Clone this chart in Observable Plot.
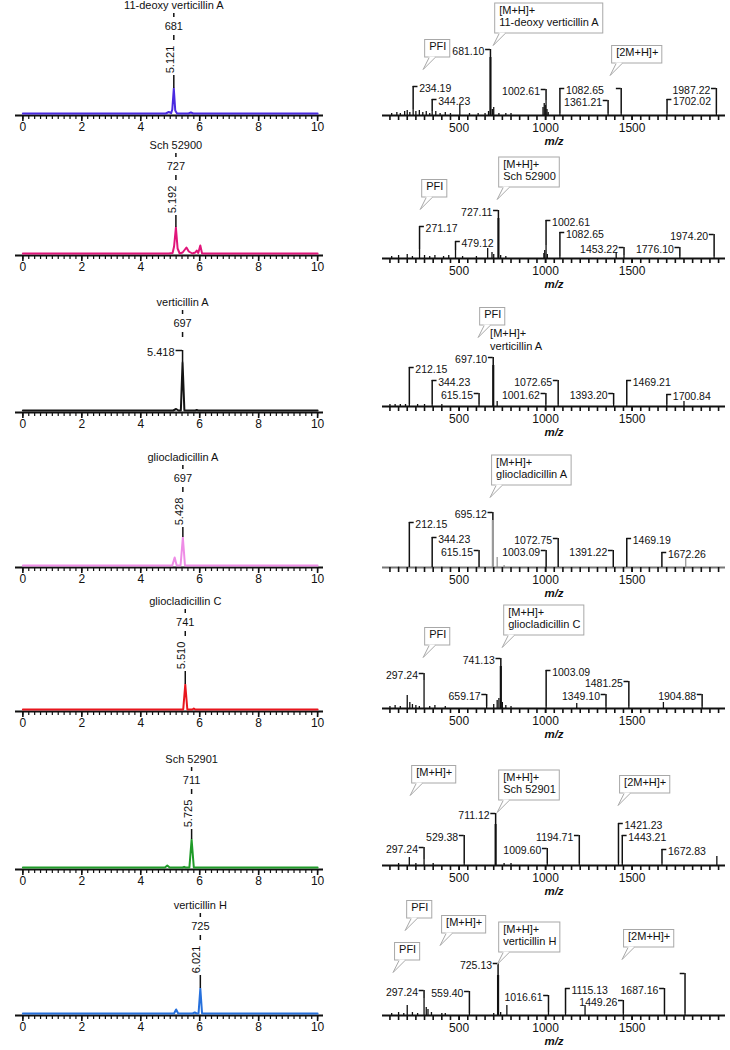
<!DOCTYPE html>
<html><head><meta charset="utf-8">
<script src="https://cdn.jsdelivr.net/npm/d3@7"></script>
<script src="https://cdn.jsdelivr.net/npm/@observablehq/plot@0.6"></script>
<style>
body{margin:0;background:#fff;}
#fig{position:relative;width:730px;height:1050px;overflow:hidden;font-family:"Liberation Sans",Arial,sans-serif;}
#fig svg{position:absolute;}
</style></head><body><div id="fig"></div>
<script>
// ---------------- DATA ----------------
const compounds = ["11-deoxy verticillin A", "Sch 52900", "verticillin A", "gliocladicillin A", "gliocladicillin C", "Sch 52901", "verticillin H"];
const monitoredIons = [681, 727, 697, 697, 741, 711, 725];
const retentionTimes = [5.121, 5.192, 5.418, 5.428, 5.510, 5.725, 6.021];
const peakHeights = [25, 26, 48, 28, 25, 28, 25];

// extracted ion chromatograms: [time (min), intensity]
const eicDeoxyVA = [[0,0],[4.85,0],[4.95,1.5],[5.03,0.3],[5.07,4],[5.121,25],[5.17,3],[5.23,0],[5.62,0],[5.7,1],[5.78,0],[10,0]];
const eicSch52900 = [[0,0],[4.95,0],[5.08,0.5],[5.13,7],[5.192,26],[5.25,5],[5.32,0],[5.42,1],[5.55,6],[5.63,2],[5.75,0],[5.85,1],[5.9,3],[5.95,0.5],[6.02,8],[6.08,0],[10,0]];
const eicVertA = [[0,0],[5.1,0],[5.2,1.5],[5.28,0],[5.36,0],[5.418,48],[5.48,0],[5.85,0],[5.9,0.5],[5.95,0],[10,0]];
const eicGlioA = [[0,0],[5.07,0],[5.15,8],[5.22,0],[5.35,0],[5.428,28],[5.5,0],[10,0]];
const eicGlioC = [[0,0],[5.44,0],[5.51,25],[5.58,0],[5.75,0],[5.8,1],[5.85,0],[10,0]];
const eicSch52901 = [[0,0],[4.82,0],[4.9,2],[4.98,0],[5.42,0],[5.47,0.7],[5.52,0],[5.65,0],[5.725,28],[5.8,0],[10,0]];
const eicVertH = [[0,0],[5.13,0],[5.2,4],[5.27,0],[5.76,0],[5.83,1],[5.9,0],[5.96,0],[6.021,25],[6.08,0],[10,0]];
const timeTickLabels = [0, 2, 4, 6, 8, 10];

// mass spectra: peaks [m/z, intensity]; labels [m/z, text, label level, side]; callouts [m/z, level, text]
const msDeoxyVA_peaks = [[681.10,58],[234.19,6],[344.23,4],[504,10],[1002.61,15],[1082.65,2],[1361.21,2],[1437,2],[1702.02,2],[1987.22,2],
  [110,2],[140,3],[160,2],[185,4],[200,5],[215,3],[250,4],[270,5],[290,3],[310,4],[330,2],[365,4],[390,2],[420,3],[450,2],[560,2],[610,2],[650,2],[670,4],[692,6],[700,8],[730,2],[770,2],[800,2],[985,8],[992,12],[998,10],[1008,6],[1015,3]];
const msDeoxyVA_labels = [[681.10,"681.10",66,"L"],[234.19,"234.19",29,"R"],[344.23,"344.23",16,"R"],[1002.61,"1002.61",26,"L"],[1082.65,"1082.65",27,"R"],[1437,"",27,"L"],[1361.21,"1361.21",15,"L"],[1987.22,"1987.22",27,"L"],[1702.02,"1702.02",16,"R"]];
const msDeoxyVA_callouts = [[697,70,"[M+H]+\n11-deoxy verticillin A"],[292,46,"PFI"],[1373,40,"[2M+H]+"]];

const msSch52900_peaks = [[727.11,40],[271.17,9],[479.12,8],[665,10],[1002.61,13],[1082.65,2],[1408,6],[1453.22,3],[1776.10,2],[1974.20,2],
  [110,2],[150,3],[200,4],[230,2],[300,3],[330,2],[360,3],[410,2],[440,3],[520,2],[600,2],[690,6],[700,4],[740,3],[770,2],[990,5],[995,8],[1010,4]];
const msSch52900_labels = [[727.11,"727.11",48,"L"],[271.17,"271.17",32,"R"],[479.12,"479.12",17,"R"],[1002.61,"1002.61",38,"R"],[1082.65,"1082.65",26,"R"],[1453.22,"1453.22",11,"L"],[1776.10,"1776.10",11,"L"],[1974.20,"1974.20",24,"L"]];
const msSch52900_callouts = [[275,49,"PFI"],[720,59,"[M+H]+\nSch 52900"]];

const msVertA_peaks = [[697.10,41],[212.15,2],[344.23,2],[615.15,2],[720,5],[1001.62,2],[1072.65,2],[1393.20,2],[1469.21,2],[1700.84,2],[1800,5],
  [100,2],[130,2],[160,2],[190,2],[260,2],[300,2],[400,2]];
const msVertA_labels = [[697.10,"697.10",49,"L"],[212.15,"212.15",39,"R"],[344.23,"344.23",26,"R"],[615.15,"615.15",13,"L"],[1001.62,"1001.62",13,"L"],[1072.65,"1072.65",26,"L"],[1393.20,"1393.20",13,"L"],[1469.21,"1469.21",26,"R"],[1700.84,"1700.84",12,"R"]];
const msVertA_callouts = [[610,69,"PFI"]];
const msVertA_notes = [[679,77,"[M+H]+\nverticillin A"]];

const msGlioA_peaks = [[695.12,47],[720,10],[1810,10],[150,1],[250,1],[400,1],[760,2]];
const msGlioA_labels = [[695.12,"695.12",55,"L"],[212.15,"212.15",45,"R"],[344.23,"344.23",30,"R"],[615.15,"615.15",17,"L"],[1003.09,"1003.09",17,"L"],[1072.75,"1072.75",29,"L"],[1391.22,"1391.22",17,"L"],[1469.19,"1469.19",29,"R"],[1672.26,"1672.26",15,"R"]];
const msGlioA_callouts = [[679,70,"[M+H]+\ngliocladicillin A"]];

const msGlioC_peaks = [[741.13,42],[297.24,28],[200,13],[659.17,2],[1003.09,2],[1180,5],[1349.10,2],[1481.25,2],[1681,6],[1904.88,2],
  [100,2],[130,3],[160,2],[215,6],[230,4],[250,3],[270,2],[330,2],[360,3],[420,2],[700,4],[720,8],[730,10],[750,6],[770,3],[800,2]];
const msGlioC_labels = [[741.13,"741.13",50,"L"],[297.24,"297.24",35,"L"],[659.17,"659.17",14,"L"],[1003.09,"1003.09",38,"R"],[1481.25,"1481.25",27,"L"],[1349.10,"1349.10",14,"L"],[1904.88,"1904.88",14,"L"]];
const msGlioC_callouts = [[292,51,"PFI"],[749,61,"[M+H]+\ngliocladicillin C"]];

const msSch52901_peaks = [[711.12,41],[297.24,6],[212,8],[529.38,2],[1009.60,2],[1194.71,2],[1421.23,2],[1443.21,2],[1672.83,2],[1990,9],
  [150,2],[250,2],[350,2],[760,2],[800,2]];
const msSch52901_labels = [[711.12,"711.12",52,"L"],[297.24,"297.24",18,"L"],[529.38,"529.38",30,"L"],[1009.60,"1009.60",17,"L"],[1194.71,"1194.71",30,"L"],[1421.23,"1421.23",42,"R"],[1443.21,"1443.21",30,"R"],[1672.83,"1672.83",16,"R"]];
const msSch52901_callouts = [[217,70,"[M+H]+"],[720,53,"[M+H]+\nSch 52901"],[1419,60,"[2M+H]+"]];

const msVertH_peaks = [[725.13,40],[297.24,17],[200,10],[559.40,2],[776,10],[1016.61,3],[1115.13,2],[1228,10],[1449.26,2],[1687.16,2],[1806,2],
  [110,2],[150,3],[180,2],[230,3],[260,2],[310,8],[320,6],[340,3],[400,2],[420,2],[700,2],[740,3]];
const msVertH_labels = [[725.13,"725.13",52,"L"],[297.24,"297.24",25,"L"],[559.40,"559.40",24,"L"],[1016.61,"1016.61",20,"L"],[1115.13,"1115.13",27,"R"],[1449.26,"1449.26",15,"L"],[1687.16,"1687.16",27,"L"],[1806,"",42,"L"]];
const msVertH_callouts = [[188,85,"PFI"],[390,70,"[M+H]+"],[118,43,"PFI"],[720,51,"[M+H]+\nverticillin H"],[1442,56,"[2M+H]+"]];
const mzTickLabels = [500, 1000, 1500];

// ---------------- STYLE / LAYOUT ----------------
const traceColors = ["#4a2ae0", "#e0157a", "#141414", "#ee8ce6", "#e8161e", "#1f9b28", "#2670dc"];
const spectrumColors = ["#111", "#111", "#111", "#9a9a9a", "#111", "#111", "#111"];
const spectrumAxisColors = ["#111", "#111", "#111", "#777", "#111", "#111", "#111"];
const rotatedRT = [true, true, false, true, true, true, true];
const leftTops = [0, 140, 297, 452, 596, 754, 900];
const rightTops = [0, 143, 291, 452, 593, 750, 900];
const eics = [eicDeoxyVA, eicSch52900, eicVertA, eicGlioA, eicGlioC, eicSch52901, eicVertH];
const spectra = [
  {peaks: msDeoxyVA_peaks, labels: msDeoxyVA_labels, callouts: msDeoxyVA_callouts, notes: []},
  {peaks: msSch52900_peaks, labels: msSch52900_labels, callouts: msSch52900_callouts, notes: []},
  {peaks: msVertA_peaks, labels: msVertA_labels, callouts: msVertA_callouts, notes: msVertA_notes},
  {peaks: msGlioA_peaks, labels: msGlioA_labels, callouts: msGlioA_callouts, notes: []},
  {peaks: msGlioC_peaks, labels: msGlioC_labels, callouts: msGlioC_callouts, notes: []},
  {peaks: msSch52901_peaks, labels: msSch52901_labels, callouts: msSch52901_callouts, notes: []},
  {peaks: msVertH_peaks, labels: msVertH_labels, callouts: msVertH_callouts, notes: []}
];
const timeMinorTicks = d3.range(0, 51).map(k => k / 5);
const mzMinorTicks = d3.range(2, 41).map(k => k * 50);
const FONT = '"Liberation Sans", Arial, sans-serif';
const fig = document.getElementById("fig");

// right-panel scale geometry (used to size callout boxes around measured text)
const MZ_DOMAIN = [57, 2040], R_W = 370, R_ML = 22, R_MR = 5;
const MZ_PER_PX = (MZ_DOMAIN[1] - MZ_DOMAIN[0]) / (R_W - R_ML - R_MR);
const measureCtx = document.createElement("canvas").getContext("2d");
measureCtx.font = `11px ${FONT}`;
const LINE_H = 12.5, PAD_X = 4, PAD_Y = 2.5, TAIL_UP = 12;

function boxFor(c) {
  const lines = c.text.split("\n");
  const w = Math.max(...lines.map(l => measureCtx.measureText(l).width)) + 2 * PAD_X;
  const h = lines.length * LINE_H + 2 * PAD_Y;
  const x1 = c.mz + 2 * MZ_PER_PX, x2 = x1 + w * MZ_PER_PX;
  const y1 = c.y + TAIL_UP, y2 = y1 + h;
  return {...c, lines, x1, x2, y1, y2};
}

function chromPlot(i) {
  const trace = eics[i].map(([t, v]) => ({t, v}));
  const peak = [{rt: retentionTimes[i], h: peakHeights[i], ion: monitoredIons[i], name: compounds[i]}];
  const marks = [
    Plot.ruleY([0], {stroke: "#111", strokeWidth: 2}),
    Plot.axisX({ticks: timeMinorTicks, tickSize: 4, fill: "none", label: null, strokeWidth: 1.2, stroke: "#111"}),
    Plot.axisX({ticks: timeTickLabels, tickSize: 6, tickPadding: 1, fontSize: 12, label: null, strokeWidth: 1.6, stroke: "#111", fill: "#111", tickFormat: d => String(d)}),
    Plot.line(trace, {x: "t", y: "v", stroke: traceColors[i], strokeWidth: 2, dy: -2}),
    Plot.text(peak, {x: "rt", frameAnchor: "bottom", dy: -107, text: "name", fontSize: 11, fill: "#111"}),
    Plot.ruleX(peak, {x: "rt", y1: 96, y2: 100, dy: -2, stroke: "#111", strokeWidth: 1.5}),
    Plot.text(peak, {x: "rt", frameAnchor: "bottom", dy: -86, text: d => String(d.ion), fontSize: 11, fill: "#111"}),
    Plot.ruleX(peak, {x: "rt", y1: 73, y2: 78, dy: -2, stroke: "#111", strokeWidth: 1.5})
  ];
  if (rotatedRT[i]) {
    marks.push(
      Plot.ruleX(peak, {x: "rt", y1: "h", y2: 38, dy: -2, stroke: "#111", strokeWidth: 1.5}),
      Plot.text(peak, {x: "rt", frameAnchor: "bottom", dy: -56, rotate: -90, text: d => d.rt.toFixed(3), fontSize: 11, fill: "#111"})
    );
  } else {
    marks.push(
      Plot.ruleX(peak, {x: "rt", y1: "h", y2: 60, dy: -2, stroke: "#111", strokeWidth: 1.5}),
      Plot.ruleY(peak, {y: () => 60, x1: d => d.rt - 0.22, x2: "rt", dy: -2, stroke: "#111", strokeWidth: 1.5}),
      Plot.text(peak, {x: "rt", y: () => 60, dy: 0, dx: -8, textAnchor: "end", text: d => d.rt.toFixed(3), fontSize: 11, fill: "#111"})
    );
  }
  return Plot.plot({
    width: 330, height: 150, marginLeft: 15, marginRight: 7, marginTop: 0, marginBottom: 35,
    x: {domain: [-0.25, 10.2], label: null},
    y: {domain: [0, 115], axis: null},
    style: {background: "transparent", overflow: "visible", fontFamily: FONT, color: "#111"},
    marks
  });
}

function spectrumPlot(i) {
  const s = spectra[i];
  const topOf = mz => { const p = s.peaks.find(p => p[0] === mz); return p ? p[1] : 0; };
  const peaks = s.peaks.map(([mz, v]) => ({mz, v}));
  const labels = s.labels.map(([mz, text, y, side]) => ({mz, text, y, side, top: topOf(mz)}));
  const boxes = s.callouts.map(([mz, y, text]) => boxFor({mz, y, text}));
  const boxLines = boxes.flatMap(b => b.lines.map((t, k) => ({x: b.x1, y: b.y2 - PAD_Y - k * LINE_H, t})));
  const notes = s.notes.flatMap(([mz, y, text]) => text.split("\n").map((t, k) => ({x: mz, y: y - k * LINE_H, t})));
  const col = spectrumColors[i];
  return Plot.plot({
    width: R_W, height: 150, marginLeft: R_ML, marginRight: R_MR, marginTop: 0, marginBottom: 35,
    x: {domain: MZ_DOMAIN, label: null},
    y: {domain: [0, 115], axis: null},
    style: {background: "transparent", overflow: "visible", fontFamily: FONT, color: "#111"},
    marks: [
      Plot.ruleX(peaks, {x: "mz", y1: 0, y2: "v", stroke: col, strokeWidth: d => d.v > 30 ? 2.2 : 1.3}),
      Plot.ruleY([0], {stroke: spectrumAxisColors[i], strokeWidth: 2.2}),
      Plot.axisX({ticks: mzMinorTicks, tickSize: 5, fill: "none", label: null, strokeWidth: 1.6, stroke: "#111"}),
      Plot.axisX({ticks: mzTickLabels, tickSize: 5, tickPadding: 3, fontSize: 12, label: null, strokeWidth: 1.6, stroke: "#111", fill: "#111", tickFormat: d => String(d)}),
      Plot.text(["m/z"], {frameAnchor: "bottom", dy: 29, text: d => d, fontStyle: "italic", fontWeight: "bold", fontSize: 11.5, fill: "#111"}),
      Plot.ruleX(labels, {x: "mz", y1: "top", y2: "y", stroke: "#111", strokeWidth: 1.5}),
      Plot.ruleY(labels, {y: "y", x1: d => d.side === "L" ? d.mz - 28 : d.mz, x2: d => d.side === "L" ? d.mz : d.mz + 28, stroke: "#111", strokeWidth: 1.5}),
      Plot.text(labels.filter(d => d.side === "L" && d.text), {x: "mz", y: "y", text: "text", textAnchor: "end", dx: -6, dy: 2, fontSize: 10.5, fill: "#111"}),
      Plot.text(labels.filter(d => d.side === "R" && d.text), {x: "mz", y: "y", text: "text", textAnchor: "start", dx: 6, dy: 2, fontSize: 10.5, fill: "#111"}),
      Plot.text(notes, {x: "x", y: "y", text: "t", textAnchor: "start", lineAnchor: "top", fontSize: 11, fill: "#111"}),
      // callout boxes (speech bubbles)
      Plot.rect(boxes, {x1: "x1", x2: "x2", y1: "y1", y2: "y2", fill: "white", stroke: "#a8a8a8", strokeWidth: 1}),
      Plot.ruleY(boxes, {y: "y1", x1: d => d.x1 + 4 * MZ_PER_PX, x2: d => d.x1 + 10 * MZ_PER_PX, stroke: "white", strokeWidth: 2}),
      Plot.link(boxes, {x1: "mz", y1: "y", x2: d => d.x1 + 4 * MZ_PER_PX, y2: "y1", stroke: "#a8a8a8", strokeWidth: 1}),
      Plot.link(boxes, {x1: "mz", y1: "y", x2: d => d.x1 + 10 * MZ_PER_PX, y2: "y1", stroke: "#a8a8a8", strokeWidth: 1}),
      Plot.text(boxLines, {x: "x", y: "y", text: "t", dx: PAD_X, textAnchor: "start", lineAnchor: "top", fontSize: 11, fill: "#111"})
    ]
  });
}

for (let i = 0; i < compounds.length; i++) {
  const l = chromPlot(i);
  l.style.left = "0px"; l.style.top = leftTops[i] + "px";
  fig.appendChild(l);
  const r = spectrumPlot(i);
  r.style.left = "360px"; r.style.top = rightTops[i] + "px";
  fig.appendChild(r);
}
</script></body></html>
